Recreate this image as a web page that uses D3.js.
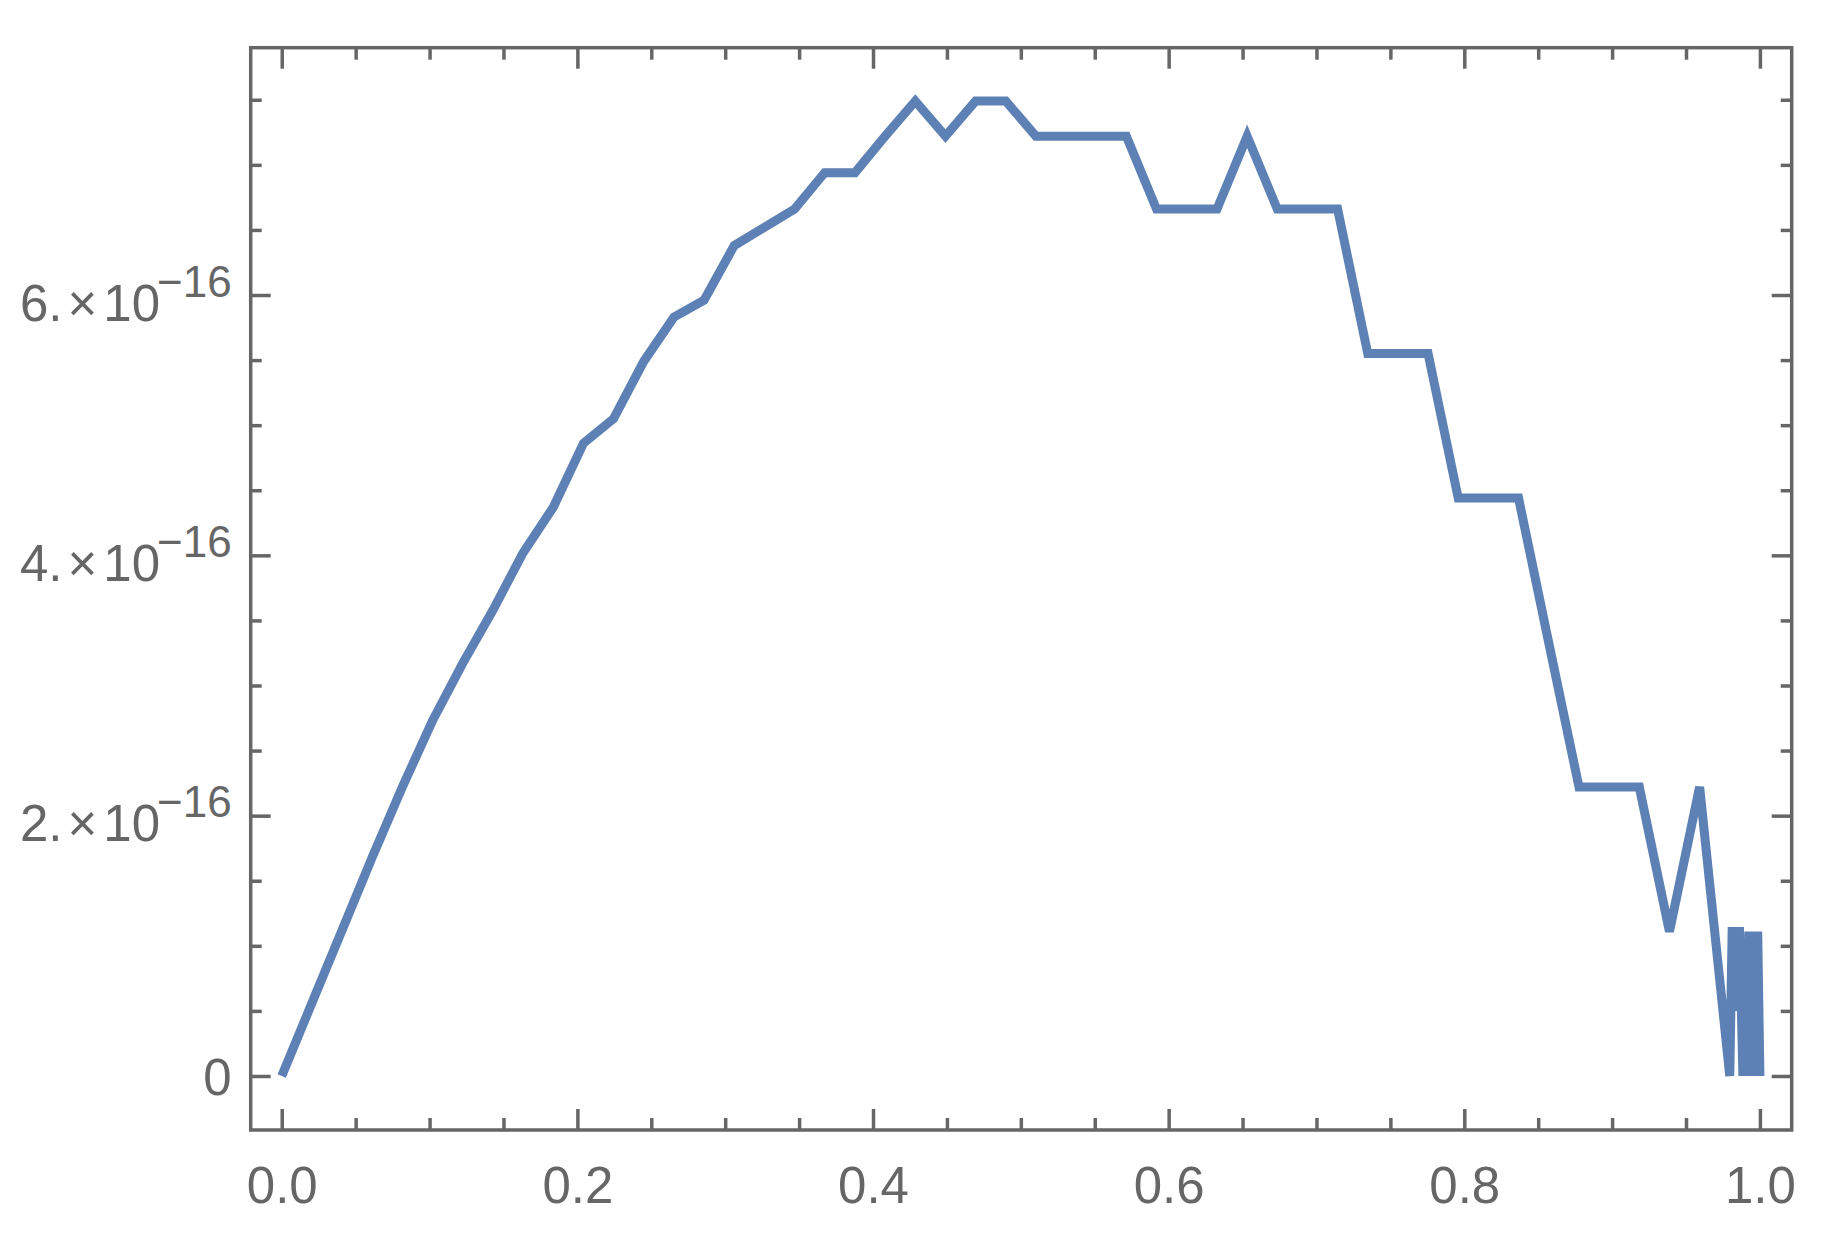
<!DOCTYPE html>
<html>
<head>
<meta charset="utf-8">
<script src="https://cdn.jsdelivr.net/npm/d3@7"></script>
<style>
  body { margin: 0; background: #fff; }
  svg { display: block; font-family: "Liberation Sans", Arial, sans-serif; }
</style>
</head>
<body>
<div id="chart"></div>
<script>
// sample points: x = k/49, plus the refined points close to x = 1
const xValues = [
  0, 0.0204, 0.0408, 0.0612, 0.0816, 0.1020, 0.1224, 0.1429, 0.1633, 0.1837,
  0.2041, 0.2245, 0.2449, 0.2653, 0.2857, 0.3061, 0.3265, 0.3469, 0.3673, 0.3878,
  0.4082, 0.4286, 0.4490, 0.4694, 0.4898, 0.5102, 0.5306, 0.5510, 0.5714, 0.5918,
  0.6122, 0.6327, 0.6531, 0.6735, 0.6939, 0.7143, 0.7347, 0.7551, 0.7755, 0.7959,
  0.8163, 0.8367, 0.8571, 0.8776, 0.8980, 0.9184, 0.9388, 0.9592, 0.9796,
  0.9812, 0.9826, 0.9838, 0.9850, 0.9862, 0.9885, 0.9895, 0.9905, 0.9925, 0.9945,
  0.9960, 0.9972, 0.9985, 1.0
];
// y in units of 1e-16
const yValues = [
  0, 0.56, 1.12, 1.68, 2.22, 2.73, 3.17, 3.58, 4.02, 4.37,
  4.86, 5.05, 5.49, 5.83, 5.96, 6.38, 6.52, 6.66, 6.94, 6.94,
  7.22, 7.49, 7.22, 7.49, 7.49, 7.22, 7.22, 7.22, 7.22, 6.66,
  6.66, 6.66, 7.22, 6.66, 6.66, 6.66, 5.55, 5.55, 5.55, 4.44,
  4.44, 4.44, 3.33, 2.22, 2.22, 2.22, 1.11, 2.22, 0,
  1.11, 1.11, 0.5, 1.11, 1.11, 0, 1.05, 0, 1.11, 0,
  1.11, 0.4, 1.11, 0
];
const yExponent = -16;

const xMajorTicks = [0, 0.2, 0.4, 0.6, 0.8, 1.0];
const xMinorTicks = [0.05, 0.1, 0.15, 0.25, 0.3, 0.35, 0.45, 0.5, 0.55, 0.65, 0.7, 0.75, 0.85, 0.9, 0.95];
const yMajorTicks = [0, 2, 4, 6];
const yMinorTicks = [0.5, 1, 1.5, 2.5, 3, 3.5, 4.5, 5, 5.5, 6.5, 7, 7.5];

const xDomain = [-0.021, 1.0215];
const yDomain = [-0.415, 7.9];

const W = 1837, H = 1244;
const frame = { left: 250.7, right: 1791.7, top: 47.7, bottom: 1130 };
const axisColor = '#666666';
const lineColor = '#5e81b5';

const svg = d3.select('#chart').append('svg')
  .attr('width', W)
  .attr('height', H);

const x = d3.scaleLinear().domain(xDomain).range([frame.left, frame.right]);
const y = d3.scaleLinear().domain(yDomain).range([frame.bottom, frame.top]);

// tick styling shared by all axes
function styleTicks(g) {
  g.select('.domain').remove();
  g.selectAll('.tick line')
    .attr('stroke', axisColor)
    .attr('stroke-width', 3.5);
}

// minor ticks first, major on top
const axes = svg.append('g').attr('class', 'axes');

axes.append('g')
  .attr('transform', `translate(0,${frame.bottom})`)
  .call(d3.axisBottom(x).tickValues(xMinorTicks).tickSize(-12).tickFormat(''))
  .call(styleTicks);
axes.append('g')
  .attr('transform', `translate(0,${frame.top})`)
  .call(d3.axisTop(x).tickValues(xMinorTicks).tickSize(-12).tickFormat(''))
  .call(styleTicks);
axes.append('g')
  .attr('transform', `translate(${frame.left},0)`)
  .call(d3.axisLeft(y).tickValues(yMinorTicks).tickSize(-11).tickFormat(''))
  .call(styleTicks);
axes.append('g')
  .attr('transform', `translate(${frame.right},0)`)
  .call(d3.axisRight(y).tickValues(yMinorTicks).tickSize(-11).tickFormat(''))
  .call(styleTicks);

// major ticks
axes.append('g')
  .attr('class', 'axis-x')
  .attr('transform', `translate(0,${frame.bottom})`)
  .call(d3.axisBottom(x).tickValues(xMajorTicks).tickSize(-21).tickFormat(d3.format('.1f')))
  .call(styleTicks)
  .call(g => g.selectAll('.tick text')
    .attr('y', 73)
    .attr('dy', null)
    .attr('fill', axisColor)
    .attr('font-size', 51));

axes.append('g')
  .attr('transform', `translate(0,${frame.top})`)
  .call(d3.axisTop(x).tickValues(xMajorTicks).tickSize(-21).tickFormat(''))
  .call(styleTicks);

axes.append('g')
  .attr('class', 'axis-y')
  .attr('transform', `translate(${frame.left},0)`)
  .call(d3.axisLeft(y).tickValues(yMajorTicks).tickSize(-20))
  .call(styleTicks)
  .call(g => g.selectAll('.tick text')
    .attr('x', -19)
    .attr('dy', null)
    .attr('fill', axisColor)
    .attr('font-size', 51)
    .each(function (d) {
      const t = d3.select(this).text(null);
      if (d === 0) {
        t.attr('y', 19).text('0');
        return;
      }
      // mantissa × 10^exp, like Mathematica's scientific tick labels
      t.attr('y', 25);
      t.append('tspan').text(d + '.');
      t.append('tspan').attr('dx', 5).text('\u00d7');
      t.append('tspan').attr('dx', 6).text('10');
      t.append('tspan')
        .attr('dx', -3)
        .attr('dy', -24)
        .attr('font-size', 44)
        .text('\u2212' + Math.abs(yExponent));
    }));

axes.append('g')
  .attr('transform', `translate(${frame.right},0)`)
  .call(d3.axisRight(y).tickValues(yMajorTicks).tickSize(-20).tickFormat(''))
  .call(styleTicks);

// frame
svg.append('rect')
  .attr('x', frame.left)
  .attr('y', frame.top)
  .attr('width', frame.right - frame.left)
  .attr('height', frame.bottom - frame.top)
  .attr('fill', 'none')
  .attr('stroke', axisColor)
  .attr('stroke-width', 3.5);

// the curve
const points = xValues.map((v, i) => [v, yValues[i]]);
const line = d3.line()
  .x(d => x(d[0]))
  .y(d => y(d[1]));

svg.append('path')
  .datum(points)
  .attr('d', line)
  .attr('fill', 'none')
  .attr('stroke', lineColor)
  .attr('stroke-width', 9)
  .attr('stroke-linejoin', 'miter')
  .attr('stroke-linecap', 'butt');
</script>
</body>
</html>
